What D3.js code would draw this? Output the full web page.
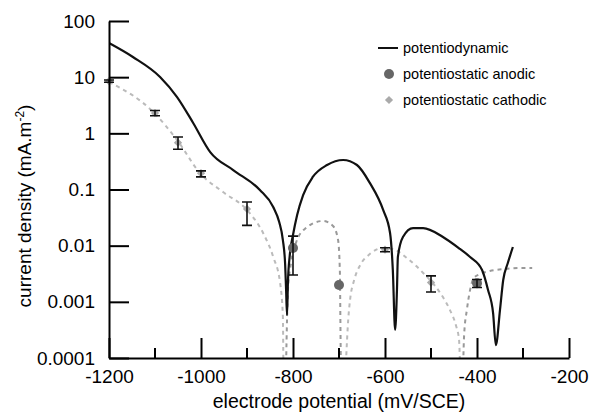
<!DOCTYPE html>
<html>
<head>
<meta charset="utf-8">
<script src="https://cdn.jsdelivr.net/npm/d3@7"></script>
<style>
	body { margin: 0; background: #fff; }
	svg text { font-family: "Liberation Sans", Arial, sans-serif; fill: #000; }
</style>
</head>
<body>
<svg id="chart" width="591" height="412"></svg>
<script>
// potentiodynamic scan (mV/SCE, mA.m-2)
const pdPotential = [-1200, -1148, -1089, -1052, -1017, -980, -930, -872, -843, -830, -822, -817, -815, -813, -811, -807, -800, -791, -778, -757, -726, -691, -661, -633, -604, -589, -583, -578, -574, -572, -561, -539, -517, -474, -437, -415, -389, -376, -365, -359, -350, -343, -333, -322];
const pdCurrent = [40.6, 22.9, 10.1, 4.43, 1.53, 0.464, 0.222, 0.098, 0.0488, 0.0264, 0.0126, 0.00453, 0.00163, 0.00058, 0.00225, 0.00682, 0.0155, 0.0352, 0.0798, 0.167, 0.273, 0.335, 0.273, 0.131, 0.0432, 0.0168, 0.0037, 0.000315, 0.00163, 0.0063, 0.0143, 0.0206, 0.0206, 0.0143, 0.00873, 0.00628, 0.00369, 0.00163, 0.00063, 0.00017, 0.00072, 0.00245, 0.0049, 0.00946];

// dashed fit, split in cathodic / anodic branches
const fitCath1E = [-1200, -1104, -1052, -1002, -952, -900, -865, -843, -828, -822, -821];
const fitCath1I = [8.2, 2.4, 0.76, 0.195, 0.09, 0.0432, 0.0168, 0.0063, 0.00216, 0.00054, 0.00008];
const fitAnod1E = [-815, -813, -811, -804, -793, -772, -735, -713, -702, -698, -697, -696];
const fitAnod1I = [0.00008, 0.000475, 0.00163, 0.0051, 0.0116, 0.0206, 0.0275, 0.0224, 0.0126, 0.00326, 0.000475, 0.00008];
const fitCath2E = [-685, -680, -676, -667, -654, -633, -604, -578, -552, -517, -480, -459, -446, -439, -437];
const fitCath2I = [0.00008, 0.000475, 0.00108, 0.00245, 0.0045, 0.0071, 0.0091, 0.0084, 0.006, 0.00326, 0.00144, 0.00072, 0.000386, 0.00021, 0.00008];
const fitAnod2E = [-430, -428, -422, -415, -407, -393, -372, -339, -307, -280];
const fitAnod2I = [0.00008, 0.000256, 0.00072, 0.00163, 0.00265, 0.00313, 0.00354, 0.00384, 0.004, 0.004];

// potentiostatic measurements with error bars
const cathE = [-1200, -1100, -1050, -1000, -900, -600, -500];
const cathI = [8.5, 2.3, 0.68, 0.195, 0.045, 0.0085, 0.0022];
const cathLo = [8.1, 2.05, 0.52, 0.168, 0.023, 0.0078, 0.0015];
const cathHi = [8.9, 2.55, 0.86, 0.215, 0.06, 0.0092, 0.0029];
const anodE = [-800, -700, -400];
const anodI = [0.0091, 0.002, 0.00215];
const anodLo = [0.003, null, 0.0018];
const anodHi = [0.0148, null, 0.0025];

const xTicks = [-1200, -1000, -800, -600, -400, -200];
const xTickLabels = ["-1200", "-1000", "-800", "-600", "-400", "-200"];
const xMinorTicks = [-1100, -900, -700, -500, -300];
const yTicks = [0.0001, 0.001, 0.01, 0.1, 1, 10, 100];
const yTickLabels = ["0.0001", "0.001", "0.01", "0.1", "1", "10", "100"];
const legendLabels = ["potentiodynamic", "potentiostatic anodic", "potentiostatic cathodic"];

const colors = {
	line: "#111",
	anodic: "#666",
	cathodic: "#aaa",
	fitAnodic: "#999",
	fitCathodic: "#bbb"
};

const svg = d3.select("#chart");
const plotLeft = 109, plotRight = 569, plotTop = 21, plotBottom = 358;

const x = d3.scaleLinear().domain([-1200, -200]).range([plotLeft, plotRight]);
const y = d3.scaleLog().domain([0.0001, 100]).range([plotBottom, plotTop]);

svg.append("clipPath")
	.attr("id", "plot-clip")
	.append("rect")
	.attr("x", plotLeft)
	.attr("y", plotTop)
	.attr("width", plotRight - plotLeft)
	.attr("height", plotBottom - plotTop);

const line = d3.line()
	.x(d => x(d[0]))
	.y(d => y(d[1]))
	.curve(d3.curveMonotoneX);

const plot = svg.append("g").attr("clip-path", "url(#plot-clip)");

// fit curves
const fits = [
	[fitCath1E, fitCath1I, colors.fitCathodic],
	[fitAnod1E, fitAnod1I, colors.fitAnodic],
	[fitCath2E, fitCath2I, colors.fitCathodic],
	[fitAnod2E, fitAnod2I, colors.fitAnodic]
];
fits.forEach(f => {
	plot.append("path")
		.datum(d3.zip(f[0], f[1]))
		.attr("d", line)
		.attr("fill", "none")
		.attr("stroke", f[2])
		.attr("stroke-width", 2)
		.attr("stroke-dasharray", "4,4");
});

// potentiodynamic curve
plot.append("path")
	.datum(d3.zip(pdPotential, pdCurrent))
	.attr("d", line)
	.attr("fill", "none")
	.attr("stroke", colors.line)
	.attr("stroke-width", 2.2)
	.attr("stroke-linejoin", "round");

// markers (diamond = square turned 45deg)
const diamond = d3.symbol().type(d3.symbolSquare).size(34);

svg.selectAll(".cath")
	.data(d3.range(cathE.length))
	.enter()
	.append("path")
	.attr("class", "cath")
	.attr("d", diamond)
	.attr("transform", i => "translate(" + x(cathE[i]) + "," + y(cathI[i]) + ") rotate(45)")
	.attr("fill", colors.cathodic);

svg.selectAll(".anod")
	.data(d3.range(anodE.length))
	.enter()
	.append("circle")
	.attr("class", "anod")
	.attr("cx", i => x(anodE[i]))
	.attr("cy", i => y(anodI[i]))
	.attr("r", 5)
	.attr("fill", colors.anodic);

// error bars
const bars = [];
cathE.forEach((e, i) => bars.push([e, cathLo[i], cathHi[i]]));
anodE.forEach((e, i) => { if (anodLo[i] != null) bars.push([e, anodLo[i], anodHi[i]]); });

const capW = 5;
const errG = svg.append("g")
	.attr("stroke", "#111")
	.attr("stroke-width", 1.6)
	.attr("fill", "none");
bars.forEach(b => {
	const cx = x(b[0]);
	errG.append("path")
		.attr("d", "M" + (cx - capW) + "," + y(b[2]) + "H" + (cx + capW) +
			"M" + cx + "," + y(b[2]) + "V" + y(b[1]) +
			"M" + (cx - capW) + "," + y(b[1]) + "H" + (cx + capW));
});

// axes
const xAxis = d3.axisBottom(x)
	.tickValues(xTicks)
	.tickSizeInner(-20)
	.tickSizeOuter(0)
	.tickPadding(12)
	.tickFormat((d, i) => xTickLabels[i]);

const xAxisLine = svg.append("g")
	.attr("transform", "translate(0," + plotBottom + ")")
	.call(xAxis);

xAxisLine.selectAll(".minor")
	.data(xMinorTicks)
	.enter()
	.append("line")
	.attr("class", "minor")
	.attr("x1", d => x(d))
	.attr("x2", d => x(d))
	.attr("y1", 0)
	.attr("y2", -10);

const yAxis = d3.axisLeft(y)
	.tickValues(yTicks)
	.tickSizeInner(-20)
	.tickSizeOuter(0)
	.tickPadding(14)
	.tickFormat((d, i) => yTickLabels[i]);

const yAxisLine = svg.append("g")
	.attr("transform", "translate(" + plotLeft + ",0)")
	.call(yAxis);

[xAxisLine, yAxisLine].forEach(a => {
	a.selectAll("path, line")
		.attr("stroke", "#000")
		.attr("stroke-width", 2);
	a.selectAll("text")
		.attr("fill", "#000")
		.style("font-size", "19px")
		.style("font-family", "'Liberation Sans', Arial, sans-serif");
});

svg.append("text")
	.attr("x", 339)
	.attr("y", 408)
	.attr("text-anchor", "middle")
	.style("font-size", "19.5px")
	.text("electrode potential (mV/SCE)");

const yTitle = svg.append("text")
	.attr("transform", "translate(31,206) rotate(-90)")
	.attr("text-anchor", "middle")
	.style("font-size", "19px");
yTitle.append("tspan").text("current density (mA.m");
yTitle.append("tspan").attr("dy", -7).style("font-size", "12px").text("-2");
yTitle.append("tspan").attr("dy", 7).text(")");

// legend
const legend = svg.append("g").attr("transform", "translate(378,48)");
const rowH = 26;
legend.append("line")
	.attr("x1", 0).attr("x2", 20)
	.attr("y1", 0).attr("y2", 0)
	.attr("stroke", colors.line)
	.attr("stroke-width", 2);
legend.append("circle")
	.attr("cx", 11).attr("cy", rowH)
	.attr("r", 5)
	.attr("fill", colors.anodic);
legend.append("path")
	.attr("d", diamond)
	.attr("transform", "translate(11," + 2 * rowH + ") rotate(45)")
	.attr("fill", colors.cathodic);
legend.selectAll(".legend-label")
	.data(legendLabels)
	.enter()
	.append("text")
	.attr("class", "legend-label")
	.attr("x", 25)
	.attr("y", (d, i) => i * rowH)
	.attr("dy", "0.35em")
	.style("font-size", "14.5px")
	.text(d => d);
</script>
</body>
</html>
